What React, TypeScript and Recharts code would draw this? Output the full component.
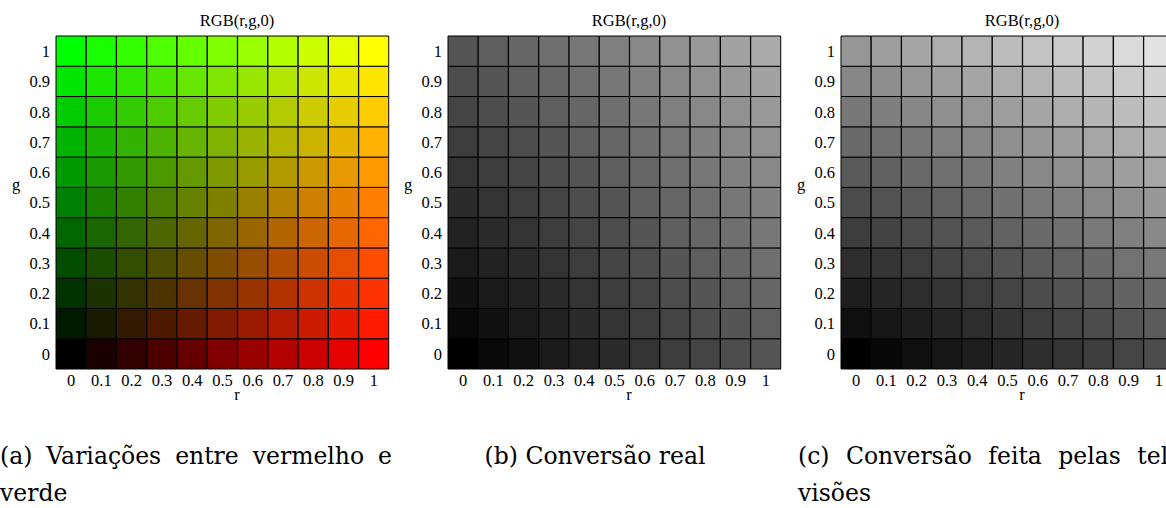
import React from 'react';
import { BarChart, Bar, XAxis, YAxis, Cell } from 'recharts';

// r goes along x, g up the y axis
const R_LABELS = ['0', '0.1', '0.2', '0.3', '0.4', '0.5', '0.6', '0.7', '0.8', '0.9', '1'];
const G_LABELS = ['0', '0.1', '0.2', '0.3', '0.4', '0.5', '0.6', '0.7', '0.8', '0.9', '1'];

// channel level (0-255) for each step of r / g
const CHANNEL_LEVELS = [0, 26, 51, 77, 102, 128, 153, 179, 204, 230, 255];

// gray levels, rows = g (0 -> 1), columns = r (0 -> 1)
const GRAY_REAL = [
  [0, 9, 17, 26, 34, 43, 51, 60, 68, 77, 85],
  [9, 17, 26, 34, 43, 51, 60, 68, 77, 85, 94],
  [17, 26, 34, 43, 51, 60, 68, 77, 85, 94, 102],
  [26, 34, 43, 51, 60, 68, 77, 85, 94, 102, 111],
  [34, 43, 51, 60, 68, 77, 85, 94, 102, 111, 119],
  [43, 51, 60, 68, 77, 85, 94, 102, 111, 119, 128],
  [51, 60, 68, 77, 85, 94, 102, 111, 119, 128, 136],
  [60, 68, 77, 85, 94, 102, 111, 119, 128, 136, 145],
  [68, 77, 85, 94, 102, 111, 119, 128, 136, 145, 153],
  [77, 85, 94, 102, 111, 119, 128, 136, 145, 153, 162],
  [85, 94, 102, 111, 119, 128, 136, 145, 153, 162, 170],
];

const GRAY_TV = [
  [0, 8, 15, 23, 30, 38, 46, 53, 61, 69, 76],
  [15, 23, 30, 38, 45, 53, 61, 68, 76, 84, 91],
  [30, 38, 45, 53, 60, 68, 76, 83, 91, 99, 106],
  [45, 53, 60, 68, 75, 83, 91, 98, 106, 114, 121],
  [60, 67, 75, 83, 90, 98, 106, 113, 121, 128, 136],
  [75, 82, 90, 98, 105, 113, 121, 128, 136, 143, 151],
  [90, 97, 105, 113, 120, 128, 136, 143, 151, 158, 166],
  [105, 112, 120, 128, 135, 143, 151, 158, 166, 173, 181],
  [120, 127, 135, 143, 150, 158, 165, 173, 181, 188, 196],
  [135, 142, 150, 158, 165, 173, 180, 188, 196, 203, 211],
  [150, 157, 165, 173, 180, 188, 195, 203, 211, 218, 226],
];

const Y_TICKS = G_LABELS.map((_, j) => j + 0.5);

// one row per r column, each g cell stacks with height 1
const gridData = R_LABELS.map((r) => {
  const row: Record<string, string | number> = { r };
  G_LABELS.forEach((_, j) => {
    row['g' + j] = 1;
  });
  return row;
});

const serif = '"Liberation Serif", "Times New Roman", serif';
const captionFont = '"DejaVu Serif", "Liberation Serif", serif';
const tickStyle = { fontFamily: serif, fontSize: 16.5, fill: '#000' };

type Mode = 'color' | 'real' | 'tv';

const cellColor = (mode: Mode, i: number, j: number) => {
  if (mode === 'color') return `rgb(${CHANNEL_LEVELS[i]},${CHANNEL_LEVELS[j]},0)`;
  const v = mode === 'real' ? GRAY_REAL[j][i] : GRAY_TV[j][i];
  return `rgb(${v},${v},${v})`;
};

const Panel: React.FC<{ mode: Mode; left: number }> = ({ mode, left }) => (
  <div style={{ position: 'absolute', left, top: 0, width: 395, height: 410 }}>
    <BarChart
      width={395}
      height={410}
      data={gridData}
      margin={{ top: 36, right: 6, bottom: 0, left: 0 }}
      barCategoryGap={0}
      barGap={0}
    >
      <XAxis
        dataKey="r"
        axisLine={false}
        tickLine={false}
        tickSize={0}
        tickMargin={5}
        height={41}
        interval={0}
        tick={tickStyle}
      />
      <YAxis
        type="number"
        domain={[0, 11]}
        ticks={Y_TICKS}
        tickFormatter={(v: number) => G_LABELS[Math.floor(v)]}
        axisLine={false}
        tickLine={false}
        tickSize={0}
        tickMargin={6}
        width={56}
        interval={0}
        tick={tickStyle}
      />
      {G_LABELS.map((_, j) => (
        <Bar
          key={j}
          dataKey={'g' + j}
          stackId="cells"
          stroke="#000"
          strokeWidth={1}
          isAnimationActive={false}
        >
          {R_LABELS.map((_, i) => (
            <Cell key={i} fill={cellColor(mode, i, j)} />
          ))}
        </Bar>
      ))}
    </BarChart>
    <div style={{ position: 'absolute', left: 137, width: 200, top: 12, textAlign: 'center', fontFamily: serif, fontSize: 16.5, lineHeight: '18px' }}>
      RGB(r,g,0)
    </div>
    <div style={{ position: 'absolute', left: 6, width: 20, top: 176, textAlign: 'center', fontFamily: serif, fontSize: 16.5, lineHeight: '18px' }}>
      g
    </div>
    <div style={{ position: 'absolute', left: 217, width: 40, top: 386, textAlign: 'center', fontFamily: serif, fontSize: 16.5, lineHeight: '18px' }}>
      r
    </div>
  </div>
);

const captionBase: React.CSSProperties = {
  position: 'absolute',
  width: 392,
  fontFamily: captionFont,
  fontSize: 23.5,
  lineHeight: '30px',
  whiteSpace: 'nowrap',
};

const justified: React.CSSProperties = {
  ...captionBase,
  whiteSpace: 'normal',
  textAlign: 'justify',
  textAlignLast: 'justify',
};

export default function App() {
  return (
    <div style={{ position: 'absolute', left: 0, top: 0, width: 1166, height: 508, overflow: 'hidden', background: '#fff' }}>
      <Panel mode="color" left={0} />
      <Panel mode="real" left={392} />
      <Panel mode="tv" left={785} />
      <div style={{ ...justified, left: 0, top: 441 }}>(a) Variações entre vermelho e</div>
      <div style={{ ...captionBase, left: 0, top: 478 }}>verde</div>
      <div style={{ ...captionBase, left: 399, top: 441, textAlign: 'center' }}>(b) Conversão real</div>
      <div style={{ ...justified, left: 798, top: 441 }}>(c) Conversão feita pelas tele-</div>
      <div style={{ ...captionBase, left: 798, top: 478 }}>visões</div>
    </div>
  );
}
